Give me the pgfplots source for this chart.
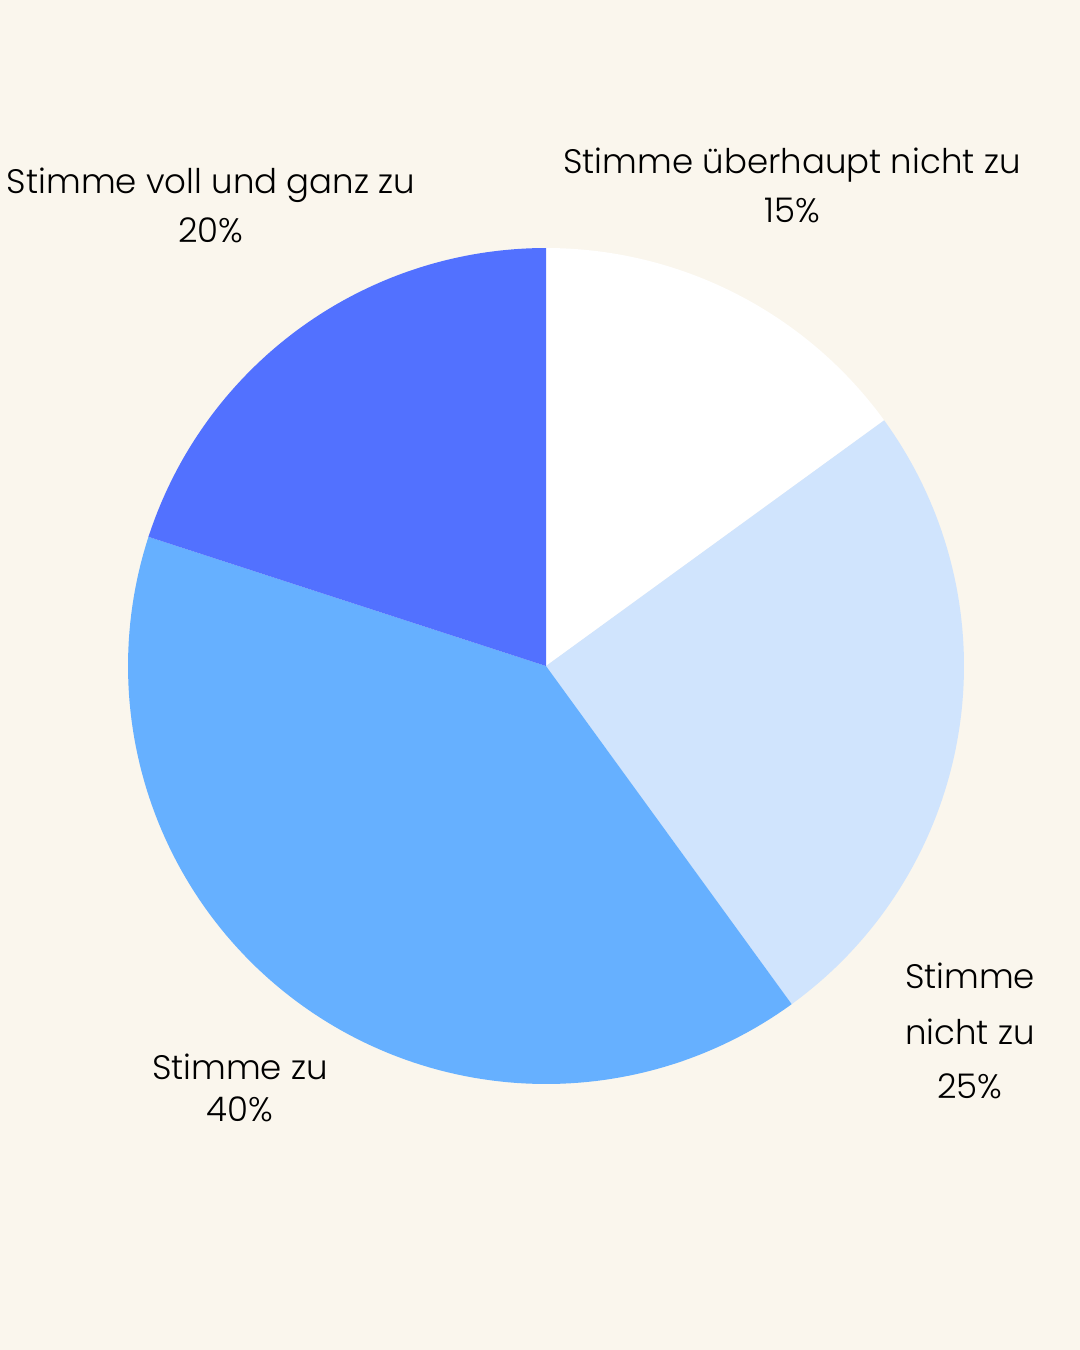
\documentclass[border=0pt]{standalone}
\usepackage{pgfplots}
\usepackage{pgfplotstable}
\pgfplotsset{compat=1.18}
\usepackage{fontspec}
\IfFontExistsTF{Poppins Light}{\setmainfont{Poppins Light}}{\setmainfont{Poppins}}

\definecolor{bg}{HTML}{FAF6ED}
\definecolor{sliceA}{HTML}{FFFFFF}
\definecolor{sliceB}{HTML}{D0E4FD}
\definecolor{sliceC}{HTML}{66B0FF}
\definecolor{sliceD}{HTML}{5271FF}

% shares in percent, clockwise from twelve o'clock
\pgfplotstableread[col sep=comma]{
label,value
ueberhaupt,15
nicht,25
zu,40
voll,20
}\piedata

\begin{document}
\begin{tikzpicture}
\pgfplotstablegetelem{0}{value}\of\piedata \let\vA\pgfplotsretval
\pgfplotstablegetelem{1}{value}\of\piedata \let\vB\pgfplotsretval
\pgfplotstablegetelem{2}{value}\of\piedata \let\vC\pgfplotsretval
\pgfplotstablegetelem{3}{value}\of\piedata \let\vD\pgfplotsretval
% slice boundaries in degrees
\pgfmathsetmacro\aA{90}
\pgfmathsetmacro\aB{\aA-3.6*\vA}
\pgfmathsetmacro\aC{\aB-3.6*\vB}
\pgfmathsetmacro\aD{\aC-3.6*\vC}
\pgfmathsetmacro\aE{\aD-3.6*\vD}
\path[fill=bg, use as bounding box] (0,0) rectangle (540pt,-675pt);
\begin{axis}[
  hide axis, clip=false,
  scale only axis, width=418pt, height=418pt,
  xmin=-1, xmax=1, ymin=-1, ymax=1,
  at={(273pt,-333pt)}, anchor=center,
]
\addplot[fill=sliceA, draw=none, domain=\aB:\aA, samples=80] ({cos(x)},{sin(x)}) -- (axis cs:0,0) -- cycle;
\addplot[fill=sliceB, draw=none, domain=\aC:\aB, samples=80] ({cos(x)},{sin(x)}) -- (axis cs:0,0) -- cycle;
\addplot[fill=sliceC, draw=none, domain=\aD:\aC, samples=120] ({cos(x)},{sin(x)}) -- (axis cs:0,0) -- cycle;
\addplot[fill=sliceD, draw=none, domain=\aE:\aD, samples=80] ({cos(x)},{sin(x)}) -- (axis cs:0,0) -- cycle;
\end{axis}
\begin{scope}[every node/.style={anchor=base, inner sep=0pt, font=\fontsize{17}{21}\selectfont, text=black}]
\node at (105.5pt,-96.5pt) {Stimme voll und ganz zu};
\node at (105.5pt,-121pt) {20\%};
\node at (396pt,-86.5pt) {Stimme überhaupt nicht zu};
\node at (396pt,-111pt) {15\%};
\node at (485pt,-494pt) {Stimme};
\node at (485pt,-522pt) {nicht zu};
\node at (485pt,-549pt) {25\%};
\node at (120pt,-539.5pt) {Stimme zu};
\node at (120pt,-560.5pt) {40\%};
\end{scope}
\end{tikzpicture}
\end{document}
